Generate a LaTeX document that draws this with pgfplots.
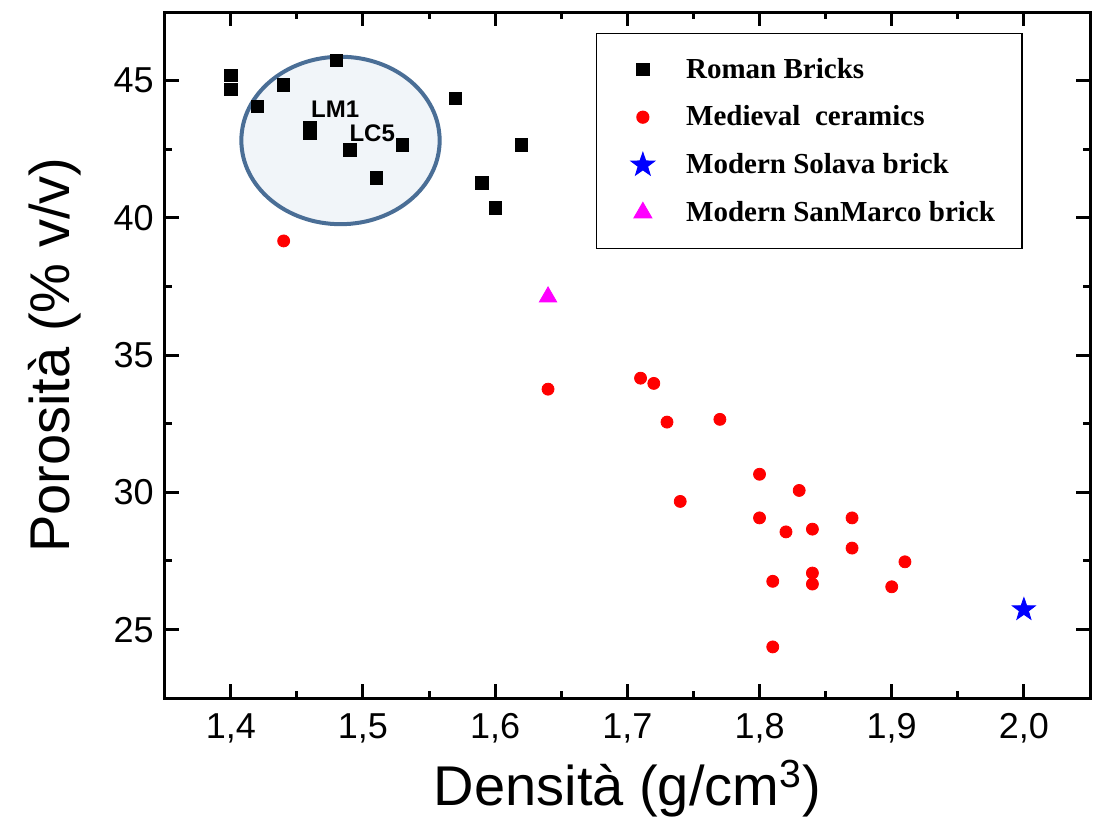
\documentclass[border=0pt]{standalone}
\usepackage{fontspec}
\setmainfont{Liberation Sans}
\newfontfamily\legfont{Liberation Serif}
\usepackage{pgfplots}
\pgfplotsset{compat=1.18}
\usetikzlibrary{plotmarks}
\definecolor{ellstroke}{HTML}{4A6E96}
\definecolor{ellfill}{HTML}{F1F5F9}
\definecolor{magM}{HTML}{FF00FF}
% filled five-pointed star
\pgfdeclareplotmark{fivestar}{%
  \pgfpathmoveto{\pgfqpointpolar{90}{\pgfplotmarksize}}%
  \pgfpathlineto{\pgfqpointpolar{126}{0.4\pgfplotmarksize}}%
  \pgfpathlineto{\pgfqpointpolar{162}{\pgfplotmarksize}}%
  \pgfpathlineto{\pgfqpointpolar{198}{0.4\pgfplotmarksize}}%
  \pgfpathlineto{\pgfqpointpolar{234}{\pgfplotmarksize}}%
  \pgfpathlineto{\pgfqpointpolar{270}{0.4\pgfplotmarksize}}%
  \pgfpathlineto{\pgfqpointpolar{306}{\pgfplotmarksize}}%
  \pgfpathlineto{\pgfqpointpolar{342}{0.4\pgfplotmarksize}}%
  \pgfpathlineto{\pgfqpointpolar{18}{\pgfplotmarksize}}%
  \pgfpathlineto{\pgfqpointpolar{54}{0.4\pgfplotmarksize}}%
  \pgfpathclose
  \pgfusepathqfillstroke
}
\begin{document}
\begin{tikzpicture}
\begin{axis}[
  scale only axis, width=462.5pt, height=343pt,
  xmin=1.35, xmax=2.05, ymin=22.5, ymax=47.5,
  xtick={1.4,1.5,1.6,1.7,1.8,1.9,2.0},
  ytick={25,30,35,40,45},
  minor tick num=1,
  tick align=inside, major tick length=7pt, minor tick length=3.5pt,
  axis line style={line width=1.5pt},
  every tick/.style={black, line width=1.5pt},
  /pgf/number format/assume math mode=true,
  xticklabel style={/pgf/number format/use comma, /pgf/number format/fixed,
    /pgf/number format/fixed zerofill, /pgf/number format/precision=1, yshift=-4pt},
  tick label style={font=\fontsize{18}{20}\selectfont},
  yticklabel style={xshift=-2pt},
  xlabel={Densità (g/cm\textsuperscript{3})},
  ylabel={Porosità (\% v/v)},
  every axis x label/.style={at={(axis description cs:0.5,-0.156)}, anchor=base,
    font=\fontsize{28}{32}\selectfont},
  every axis y label/.style={at={(axis description cs:-0.1027,0.5)}, anchor=base, rotate=90,
    font=\fontsize{28}{32}\selectfont},
  legend image code/.code={\path (0cm,0cm) (30.7pt,0cm);
    \draw[mark repeat=2,mark phase=2,#1]
    plot coordinates {(0cm,0cm) (0.4cm,0cm) (0.8cm,0cm)};},
  legend style={at={(0.466,0.969)}, anchor=north west, draw=black, line width=0.6pt,
    font=\legfont\bfseries\fontsize{14.5}{17}\selectfont, row sep=8.3pt,
    inner xsep=11.5pt, inner ysep=10pt, cells={anchor=west}},
]
\draw[draw=ellstroke, line width=2pt, fill=ellfill] (axis cs:1.483,42.82) ellipse [x radius=0.075, y radius=3.05];

\addplot[only marks, mark=square*, mark size=3.1pt, black] coordinates {
(1.40,45.18) (1.40,44.67) (1.42,44.07) (1.44,44.85) (1.48,45.73)
(1.46,43.29) (1.46,43.07) (1.49,42.47) (1.53,42.66) (1.51,41.46)
(1.57,44.36) (1.62,42.66) (1.59,41.27) (1.60,40.36)
};
\addlegendentry{Roman Bricks}

\addplot[only marks, mark=*, mark size=3pt, red] coordinates {
(1.44,39.16) (1.64,33.76) (1.71,34.16) (1.72,33.97) (1.73,32.56)
(1.77,32.66) (1.80,30.66) (1.83,30.07) (1.74,29.67) (1.80,29.07)
(1.82,28.56) (1.84,28.66) (1.87,29.07) (1.87,27.97) (1.91,27.47)
(1.84,27.06) (1.84,26.66) (1.81,26.76) (1.90,26.56) (1.81,24.37)
};
\addlegendentry{Medieval\ \ ceramics}

\addplot[only marks, mark=fivestar, mark size=6pt, blue, mark options={fill=blue}] coordinates {
(2.00,25.73)
};
\addlegendentry{Modern Solava brick}

\addplot[only marks, mark=triangle*, mark size=5pt, magM] coordinates {
(1.64,37.12)
};
\addlegendentry{Modern SanMarco brick\hspace{19.5pt}}

\node[font=\bfseries\fontsize{12}{14}\selectfont] at (axis cs:1.479,43.95) {LM1};
\node[font=\bfseries\fontsize{12}{14}\selectfont] at (axis cs:1.507,43.07) {LC5};
\coordinate (bbsw) at (rel axis cs:-0.178,-0.2);
\coordinate (bbne) at (rel axis cs:1.0065,1.0175);
\end{axis}
\path (bbsw) (bbne);
\end{tikzpicture}
\end{document}
